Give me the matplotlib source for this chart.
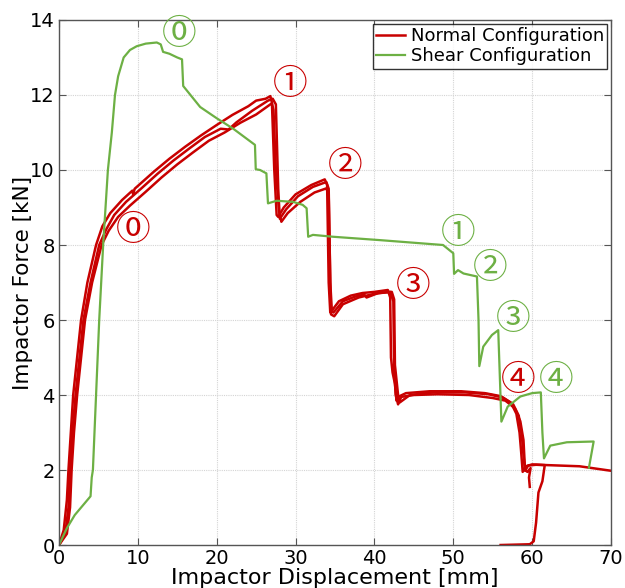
import matplotlib
matplotlib.use("Agg")
import matplotlib.pyplot as plt

# ---- data ----
# Normal configuration, specimen A (continues to 70 mm)
normal_a_x = [0, 0.6, 1.0, 1.2, 1.5, 1.8, 2.3, 2.8, 3.6, 4.7, 5.5, 6.5, 8.0, 9.3, 9.4, 9.6,
              12.0, 14.0, 16.0, 18.0, 20.0, 22.0, 24.0, 25.0, 26.2, 26.8, 27.0, 27.3, 27.6, 27.8,
              28.5, 30.0, 32.0, 33.7, 34.0, 34.2, 34.4, 34.6, 35.5, 37.0, 38.5, 40.0, 41.7, 42.0,
              42.1, 42.3, 42.6, 42.8, 43.0, 44.0, 47.0, 51.0, 54.0, 56.0, 57.3, 58.0, 58.4, 58.6,
              58.8, 59.2, 60.0, 62.0, 66.0, 70.0]
normal_a_y = [0, 0.4, 1.2, 2.0, 3.0, 4.0, 5.0, 6.0, 7.0, 8.0, 8.5, 8.85, 9.2, 9.45, 9.35, 9.5,
              9.95, 10.3, 10.62, 10.92, 11.2, 11.47, 11.7, 11.85, 11.9, 11.97, 11.8, 10.0, 8.8, 8.75,
              9.0, 9.35, 9.6, 9.75, 9.6, 7.0, 6.2, 6.25, 6.5, 6.65, 6.72, 6.75, 6.8, 6.6,
              5.0, 4.6, 4.3, 3.85, 3.95, 4.05, 4.1, 4.1, 4.05, 3.97, 3.8, 3.5, 3.0, 2.5,
              1.95, 2.1, 2.15, 2.13, 2.1, 1.98]

# Normal configuration, specimen B (unloads to zero)
normal_b_x = [0, 0.8, 1.2, 1.4, 1.7, 2.1, 2.6, 3.1, 4.0, 5.1, 6.0, 7.0, 8.5, 10.5,
              12.5, 14.5, 16.5, 18.5, 20.5, 21.5, 22.5, 24.5, 26.5, 27.1, 27.5, 27.8, 28.0,
              28.8, 30.3, 32.2, 33.9, 34.2, 34.4, 34.6, 34.8, 36.0, 37.5, 38.7, 39.0, 40.5, 42.2, 42.5,
              42.6, 42.8, 43.0, 43.2, 44.5, 47.5, 51.5, 54.5, 56.3, 57.6, 58.3, 58.7, 58.9,
              59.1, 59.5, 60.5, 61.6, 61.3, 60.8, 60.5, 60.2, 59.7, 56.0]
normal_b_y = [0, 0.3, 1.0, 2.0, 3.0, 4.0, 5.0, 6.0, 7.0, 8.0, 8.42, 8.8, 9.15, 9.52,
              9.9, 10.25, 10.57, 10.88, 11.1, 11.08, 11.27, 11.58, 11.85, 11.9, 11.75, 9.5, 8.7,
              8.95, 9.3, 9.55, 9.68, 9.5, 7.0, 6.25, 6.2, 6.5, 6.62, 6.68, 6.6, 6.72, 6.75, 6.55,
              4.8, 4.4, 4.0, 3.8, 4.0, 4.07, 4.07, 4.02, 3.93, 3.75, 3.45, 2.9, 2.4,
              1.98, 2.12, 2.14, 2.13, 1.7, 1.4, 0.6, 0.1, 0.02, 0.0]

# Normal configuration, specimen C (lower)
normal_c_x = [0, 1.0, 1.4, 1.6, 1.9, 2.3, 2.8, 3.3, 4.2, 5.4, 6.3, 7.5, 9.0, 11.0,
              13.0, 15.0, 17.0, 19.0, 21.0, 23.0, 25.0, 27.0, 27.2, 27.5, 27.9, 28.2,
              29.0, 30.6, 32.4, 33.9, 34.2, 34.4, 34.5, 34.9, 36.0, 38.0, 40.0, 42.0, 42.4,
              42.5, 42.7, 43.0, 43.4, 45.0, 48.0, 52.0, 55.0, 56.6, 57.8, 58.5, 58.9, 59.1,
              59.4, 59.8, 59.6, 59.7]
normal_c_y = [0, 0.3, 1.0, 2.0, 3.0, 4.0, 5.0, 6.0, 7.0, 8.0, 8.38, 8.75, 9.05, 9.42,
              9.8, 10.15, 10.47, 10.78, 11.0, 11.26, 11.48, 11.78, 11.6, 10.0, 8.9, 8.62,
              8.85, 9.15, 9.4, 9.51, 9.35, 7.0, 6.15, 6.1, 6.42, 6.6, 6.7, 6.75, 6.5,
              4.7, 4.0, 3.75, 3.95, 4.0, 4.02, 4.0, 3.92, 3.85, 3.65, 3.3, 2.8, 2.0,
              1.95, 2.05, 1.8, 1.55]

# Shear configuration
shear_x = [0, 1.0, 2.0, 3.0, 4.0, 4.15, 4.3, 4.7, 5.1, 5.6, 5.9, 6.2, 6.7, 7.1, 7.5, 8.2, 9.0,
           9.85, 11.0, 12.4, 12.9, 13.2, 14.0, 15.0, 15.6, 15.75, 17.9, 20.0, 22.1, 24.85, 24.95,
           25.5, 26.3, 26.5, 27.6, 29.7, 30.9, 31.4, 31.6, 32.2, 34.75, 40.7, 48.7, 50.0, 50.1,
           50.6, 51.3, 53.0, 53.2, 53.3, 53.8, 54.9, 55.7, 56.1, 56.9, 58.5, 60.0, 61.1,
           61.3, 61.5, 62.3, 64.4, 67.8, 67.2]
shear_y = [0, 0.45, 0.8, 1.05, 1.3, 1.8, 2.0, 4.0, 6.0, 8.0, 9.0, 10.0, 11.0, 12.0, 12.5, 13.0, 13.2,
           13.3, 13.37, 13.4, 13.35, 13.15, 13.1, 13.0, 12.95, 12.24, 11.68, 11.38, 11.1, 10.67, 10.02,
           10.0, 9.91, 9.11, 9.18, 9.15, 9.07, 8.98, 8.22, 8.27, 8.22, 8.13, 8.0, 7.78, 7.23,
           7.33, 7.24, 7.16, 6.0, 4.77, 5.29, 5.6, 5.73, 3.29, 3.69, 3.96, 4.05, 4.07,
           3.0, 2.31, 2.65, 2.74, 2.76, 2.06]

# Stage labels
normal_labels = ["⓪", "①", "②", "③", "④"]
normal_label_x = [9.4, 29.3, 36.3, 44.9, 58.2]
normal_label_y = [8.4, 12.27, 10.09, 6.9, 4.4]
shear_labels = ["⓪", "①", "②", "③", "④"]
shear_label_x = [15.2, 50.6, 54.7, 57.6, 63.1]
shear_label_y = [13.6, 8.31, 7.38, 6.02, 4.4]

x_ticks = [0, 10, 20, 30, 40, 50, 60, 70]
y_ticks = [0, 2, 4, 6, 8, 10, 12, 14]

RED = "#C80000"
GREEN = "#6DB044"

plt.rcParams['font.family'] = ['DejaVu Sans', 'Noto Sans CJK JP']

fig = plt.figure(figsize=(6.25, 5.88), dpi=100)
ax = fig.add_axes([0.0944, 0.0731, 0.8832, 0.8929])

ax.plot(normal_c_x, normal_c_y, color=RED, lw=1.8, solid_joinstyle='round')
ax.plot(normal_b_x, normal_b_y, color=RED, lw=1.8, solid_joinstyle='round')
ax.plot(normal_a_x, normal_a_y, color=RED, lw=1.8, solid_joinstyle='round',
        label="Normal Configuration")
ax.plot(shear_x, shear_y, color=GREEN, lw=1.6, solid_joinstyle='round',
        label="Shear Configuration")

for t, x, y in zip(normal_labels, normal_label_x, normal_label_y):
    ax.text(x, y, t, color=RED, fontsize=25, ha='center', va='center',
            family=['Noto Sans CJK JP', 'DejaVu Sans'])
for t, x, y in zip(shear_labels, shear_label_x, shear_label_y):
    ax.text(x, y, t, color=GREEN, fontsize=25, ha='center', va='center',
            family=['Noto Sans CJK JP', 'DejaVu Sans'])

ax.set_xlim(0, 70)
ax.set_ylim(0, 14)
ax.set_xticks(x_ticks)
ax.set_yticks(y_ticks)
ax.tick_params(direction='in', top=True, right=True, labelsize=14, length=5,
               color='#555555', pad=3)
for s in ax.spines.values():
    s.set_color('#555555')
    s.set_linewidth(1.0)
ax.grid(True, color='#d4d4d4', linestyle=(0, (1, 1)), linewidth=0.8)
ax.set_axisbelow(True)

ax.set_xlabel("Impactor Displacement [mm]", fontsize=16, labelpad=0)
ax.set_ylabel("Impactor Force [kN]", fontsize=15.5, labelpad=-2)

leg = ax.legend(loc='upper right', fontsize=13, frameon=True, fancybox=False,
                edgecolor='black', borderpad=0.2, labelspacing=0.1,
                handlelength=1.6, handletextpad=0.3, borderaxespad=0.2)
leg.get_frame().set_linewidth(1.0)

fig.savefig("out.png", dpi=100)
